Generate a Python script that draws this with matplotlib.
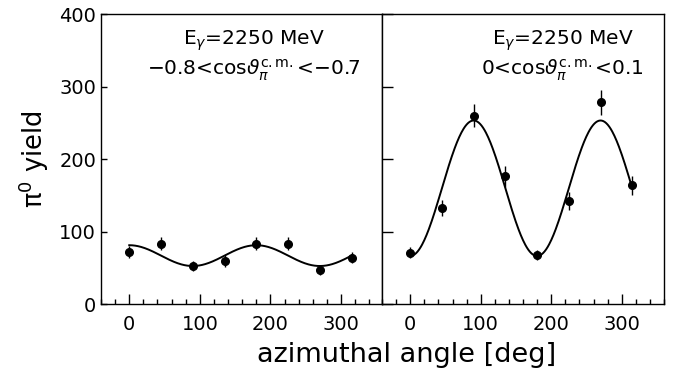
import numpy as np
import matplotlib.pyplot as plt
from matplotlib.ticker import MultipleLocator

# datos
phi = np.array([0, 45, 90, 135, 180, 225, 270, 315])
y_izq = np.array([72, 83, 52, 59, 83, 83, 47, 64])
err_izq = np.array([8, 9, 7, 8, 9, 9, 7, 8])
y_der = np.array([71, 133, 260, 176, 68, 142, 278, 164])
err_der = np.array([8, 11, 16, 15, 7, 13, 17, 13])

theta = r'$\vartheta_\pi^{\mathrm{c.m.}}$'
titulos = ['E$_\\gamma$=2250 MeV\n\u22120.8<cos' + theta + '<\u22120.7',
           'E$_\\gamma$=2250 MeV\n0<cos' + theta + '<0.1']
pos_texto = [0.545, 0.64]

plt.rcParams['mathtext.fontset'] = 'dejavusans'

fig = plt.figure(figsize=(6.83, 3.82), dpi=100)
ax1 = fig.add_axes([101/683, 78/382, 281/683, 290/382])
ax2 = fig.add_axes([382/683, 78/382, 282/683, 290/382], sharey=ax1)


def ajuste(x, y, e):
    # ajuste A + B cos(2 phi) por minimos cuadrados ponderados
    rad = np.radians(x)
    M = np.vstack([np.ones_like(rad), np.cos(2 * rad)]).T / e[:, None]
    coef = np.linalg.lstsq(M, y / e, rcond=None)[0]
    xs = np.linspace(x.min(), x.max(), 300)
    return xs, coef[0] + coef[1] * np.cos(2 * np.radians(xs))


for i, (ax, y, e) in enumerate([(ax1, y_izq, err_izq), (ax2, y_der, err_der)]):
    xs, ys = ajuste(phi, y, e)
    ax.plot(xs, ys, color='black', lw=1.4)
    ax.errorbar(phi, y, yerr=e, fmt='o', color='black', ms=5.5, elinewidth=1, capsize=0)
    ax.set_xlim(-40, 358 if i == 0 else 360)
    ax.set_ylim(0, 400)
    ax.xaxis.set_major_locator(MultipleLocator(100))
    ax.xaxis.set_minor_locator(MultipleLocator(20))
    ax.yaxis.set_major_locator(MultipleLocator(100))
    ax.tick_params(axis='x', which='major', direction='in', length=7, width=1, labelsize=14, pad=8)
    ax.tick_params(axis='x', which='minor', direction='in', length=3.5, width=1)
    ax.tick_params(axis='y', direction='in', length=4.5 if i == 0 else 8, width=1, labelsize=14)
    for s in ax.spines.values():
        s.set_linewidth(1)
    ax.text(pos_texto[i], 0.95, titulos[i], transform=ax.transAxes, ha='center', va='top',
            fontsize=14.5, linespacing=1.25)

ax2.tick_params(axis='y', labelleft=False)
ax1.set_ylabel('\u03c0$^0$ yield', fontsize=18.5, labelpad=6)
fig.text(407/683, 0.07, 'azimuthal angle [deg]', ha='center', va='center', fontsize=19.5)

plt.savefig('out.png', dpi=100)
